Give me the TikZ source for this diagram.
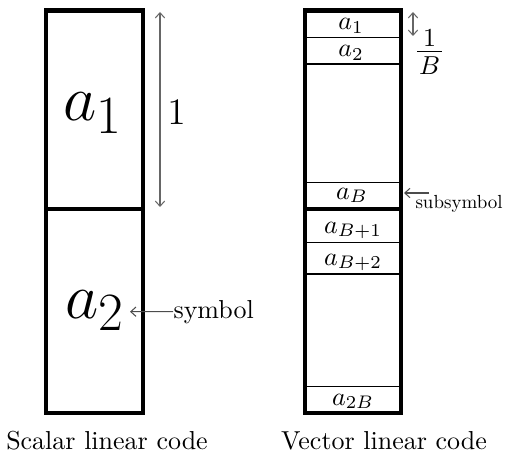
\documentclass[tikz,border=0pt]{standalone}
\usetikzlibrary{arrows.meta}
\begin{document}
\begin{tikzpicture}[x=0.385pt,y=-0.385pt,
  thickbox/.style={line width=1.6pt},
  thinline/.style={line width=0.4pt},
  tip/.tip={Straight Barb[length=2pt,width=3.6pt]},
  dimarrow/.style={draw=black!60, line width=0.4pt, tip-tip},
  ptrarrow/.style={draw=black!70, line width=0.4pt, -tip},
  lbl/.style={inner sep=0pt, anchor=base}]
\useasboundingbox (0,0) rectangle (509,453);
% ---- scalar code ----
\draw[thickbox] (46,10.5) rectangle (143,413);
\draw[thickbox] (46,209) -- (143,209);
\node[lbl] (sa1) at (93,121) {\Huge$a_1$};
\node[lbl] (sa2) at (95,318) {\Huge$a_2$};
\coordinate (dimtop) at (160,12);
\coordinate (dimbot) at (160,207);
\draw[dimarrow] (dimtop) -- (dimbot);
\node[inner sep=0pt] (one) at (176.5,112) {\Large$1$};
\node[lbl, anchor=base west] (sym) at (173,318) {symbol};
\coordinate (symhead) at (130,311.7);
\draw[ptrarrow] (sym.west) -- (symhead);
\node[lbl] (cap1) at (107,449.5) {Scalar linear code};
% ---- vector code ----
\draw[thickbox] (305,10.5) rectangle (401,413);
\draw[thickbox] (305,209) -- (401,209);
\foreach \yy in {37.3,64,182.7,242.7,274,386.7}
  \draw[thinline] (305,\yy) -- (401,\yy);
\node[lbl] (va1) at (351,29.5) {$a_1$};
\node[lbl] (va2) at (351,56.7) {$a_2$};
\node[lbl] (vaB) at (352,199) {$a_B$};
\node[lbl] (vaB1) at (353,233) {$a_{B+1}$};
\node[lbl] (vaB2) at (353,265) {$a_{B+2}$};
\node[lbl] (va2B) at (353,405) {$a_{2B}$};
\coordinate (subtop) at (413,12);
\coordinate (subbot) at (413,36);
\draw[dimarrow] (subtop) -- (subbot);
\node[lbl] (frac) at (429.5,61.3) {\Large$\frac{1}{\mkern1.3mu B\mkern1.3mu}$};
\node[lbl, anchor=base west] (subsym) at (415,208) {\scalebox{0.73}{subsymbol}};
\coordinate (subtail) at (429,193);
\coordinate (subhead) at (404,193);
\draw[ptrarrow] (subtail) -- (subhead);
\node[lbl] (cap2) at (384,449.5) {Vector linear code};
\end{tikzpicture}
\end{document}
